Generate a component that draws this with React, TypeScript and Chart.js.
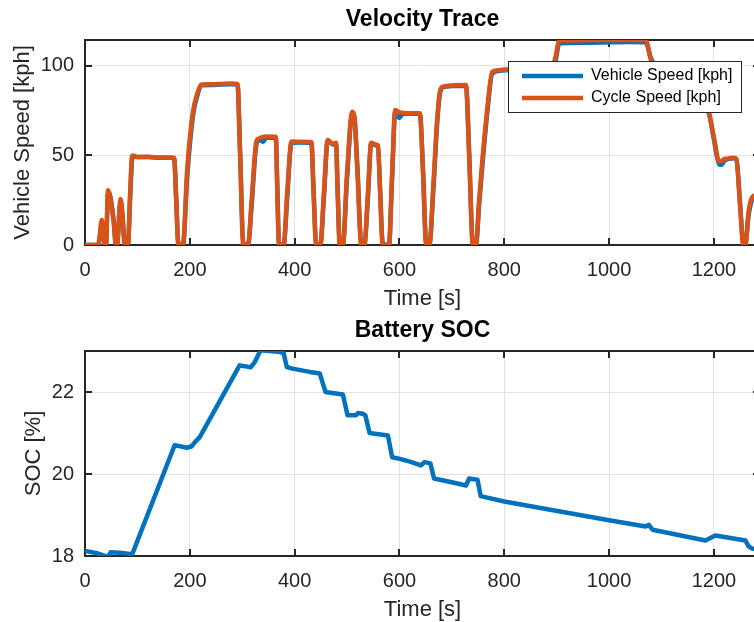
import React, { useEffect, useRef } from 'react';
import { Chart, registerables } from 'chart.js';

Chart.register(...registerables);

// ---------- data ----------
const speedTime = [
  0, 25, 28, 32, 35, 38, 40, 44, 47, 50, 55, 59, 61, 68, 72, 76, 82, 86, 90, 93,
  100, 120, 140, 160, 170, 174, 178, 187, 195, 206, 215, 222, 240, 260, 280, 291, 296, 302, 311, 318,
  327, 333, 340, 345, 364, 367, 370, 379, 386, 394, 410, 432, 436, 441, 449, 456, 463, 473, 479, 482,
  486, 492, 500, 510, 514, 520, 527, 533, 540, 546, 555, 559, 563, 568, 580, 586, 592, 600, 605, 620,
  639, 645, 651, 657, 665, 672, 678, 684, 700, 727, 733, 740, 746, 752, 759, 768, 777, 790, 803, 850,
  890, 898, 905, 950, 1000, 1040, 1070, 1080, 1095, 1120, 1150, 1180, 1190, 1200, 1210, 1215, 1220, 1229, 1238, 1243,
  1250, 1256, 1260, 1266, 1272, 1280, 1288,
];

const cycleSpeed = [
  0, 0, 5, 14, 8, 0, 0, 30.5, 28, 23.6, 12, 0, 0, 25.7, 14, 0, 0, 28, 49.7, 49.5,
  49, 49.2, 48.8, 48.8, 48.6, 25, 0, 0, 42, 74.3, 85, 89.5, 89.6, 89.8, 90, 89.8, 50, 0, 0, 25,
  57.7, 59.5, 60.2, 60.5, 60.4, 30, 0, 0, 30, 57.7, 57.5, 57.3, 30, 0, 0, 30, 58.5, 56.5, 57, 30,
  0, 0, 40, 74.3, 71.7, 40, 0, 0, 30, 57, 56, 55.5, 30, 0, 0, 40, 75.3, 74, 73.8, 73.5,
  73.4, 40, 0, 0, 35, 70, 86.4, 88.3, 89, 89.2, 50, 0, 0, 25, 50, 77, 96.6, 97.5, 97.9, 98,
  98, 105, 114, 114.2, 114.3, 114.4, 114.2, 103, 96, 90, 85, 78, 74.3, 60, 46.5, 46.8, 48, 48.3, 48.7, 48,
  22, 0, 0, 18, 26, 28, 30,
];

const vehicleSpeed = [
  0, 0, 3, 13, 9, 0, 0, 29, 28.5, 24, 13, 0, 0, 24.5, 15, 0, 0, 25, 48, 49.8,
  49, 49, 48.7, 48.6, 48.5, 27, 1, 0, 38, 72, 84, 89, 89.2, 89.5, 89.6, 89.4, 52, 1, 0, 22,
  56, 58.5, 57.5, 59.8, 60, 32, 1, 0, 27, 57, 57.2, 57, 32, 1, 0, 27, 58, 56, 56.5, 32,
  1, 0, 37, 73.5, 71, 42, 1, 0, 27, 56.5, 55.5, 55, 32, 1, 0, 37, 74.5, 70.8, 73, 73.2,
  73, 42, 1, 0, 32, 68, 85.5, 88, 88.6, 88.8, 52, 1, 0, 22, 47, 75, 95.5, 97, 97.5, 97.6,
  97.7, 103, 112.5, 112.8, 113, 113.2, 113, 104, 96.5, 90, 85, 78, 74, 59, 45, 44.7, 47, 48, 48.3, 47.5,
  23, 1, 0, 16, 24.5, 27.5, 29.5,
];

const socTime = [
  0, 10, 25, 44, 49, 66, 86, 90, 171, 180, 194, 203, 210, 219, 295, 305, 316, 324, 335, 352,
  370, 379, 385, 396, 429, 448, 459, 475, 492, 501, 517, 521, 530, 535, 543, 560, 578, 586, 601, 620,
  641, 648, 659, 666, 700, 727, 733, 749, 755, 800, 1000, 1070, 1076, 1083, 1184, 1195, 1203, 1260, 1266, 1273,
  1288,
];

const socValues = [
  18.12, 18.1, 18.06, 17.98, 18.09, 18.08, 18.05, 18.04, 20.7, 20.68, 20.64, 20.67, 20.78, 20.9, 22.65, 22.63, 22.6, 22.73, 23.02, 23.0,
  22.98, 22.95, 22.61, 22.57, 22.49, 22.45, 22.0, 21.97, 21.94, 21.43, 21.43, 21.49, 21.47, 21.43, 21.0, 20.97, 20.94, 20.41, 20.37, 20.3,
  20.21, 20.29, 20.26, 19.89, 19.8, 19.72, 19.89, 19.86, 19.46, 19.33, 18.87, 18.72, 18.76, 18.64, 18.38, 18.45, 18.5, 18.38, 18.24, 18.18,
  18.14,
];

const timeTicks = [0, 200, 400, 600, 800, 1000, 1200];
const speedTicks = [0, 50, 100];
const socTicks = [18, 20, 22];

const TIME_MAX = 1288;
const SPEED_RANGE = [0, 114.3];
const SOC_RANGE = [18, 23];

// ---------- styles ----------
const FONT = "'Liberation Sans', Arial, Helvetica, sans-serif";
const AXIS_COLOR = '#262626';
const GRID_COLOR = '#e2e2e2';
const BLUE = '#0072BD';
const ORANGE = '#D95319';
const CANVAS_W = 772;
const CANVAS_H = 311;

function framePlugin(title: string) {
  return {
    id: 'matlabFrame',
    beforeDatasetsDraw(chart: any) {
      const { ctx, chartArea: a, scales } = chart;
      ctx.save();
      ctx.strokeStyle = AXIS_COLOR;
      ctx.lineWidth = 2;
      ctx.strokeRect(a.left, a.top, a.right - a.left, a.bottom - a.top);
      const tl = 7;
      ctx.beginPath();
      scales.x.ticks.forEach((t: any) => {
        const px = Math.round(scales.x.getPixelForValue(t.value));
        ctx.moveTo(px, a.bottom);
        ctx.lineTo(px, a.bottom - tl);
        ctx.moveTo(px, a.top);
        ctx.lineTo(px, a.top + tl);
      });
      scales.y.ticks.forEach((t: any) => {
        const py = Math.round(scales.y.getPixelForValue(t.value));
        ctx.moveTo(a.left, py);
        ctx.lineTo(a.left + tl, py);
        ctx.moveTo(a.right, py);
        ctx.lineTo(a.right - tl, py);
      });
      ctx.stroke();
      ctx.fillStyle = '#000';
      ctx.font = `bold 23px ${FONT}`;
      ctx.textAlign = 'center';
      ctx.textBaseline = 'middle';
      ctx.fillText(title, (a.left + a.right) / 2, 20);
      ctx.restore();
    },
  };
}

const legendPlugin = {
  id: 'matlabLegend',
  afterDatasetsDraw(chart: any) {
    const { ctx, chartArea: a } = chart;
    const left = a.left + 423;
    const top = a.top + 21;
    const w = 233;
    const h = 51;
    ctx.save();
    ctx.fillStyle = '#fff';
    ctx.fillRect(left, top, w, h);
    ctx.strokeStyle = AXIS_COLOR;
    ctx.lineWidth = 1;
    ctx.strokeRect(left + 0.5, top + 0.5, w, h);
    const items = chart.data.datasets.slice().sort((p: any, q: any) => p.legendIndex - q.legendIndex);
    items.forEach((ds: any, i: number) => {
      const y = top + 15 + i * 22;
      ctx.strokeStyle = ds.borderColor;
      ctx.lineWidth = 4.5;
      ctx.beginPath();
      ctx.moveTo(left + 14, y);
      ctx.lineTo(left + 75, y);
      ctx.stroke();
      ctx.fillStyle = '#000';
      ctx.font = `16px ${FONT}`;
      ctx.textAlign = 'left';
      ctx.textBaseline = 'middle';
      ctx.fillText(ds.label, left + 83, y);
    });
    ctx.restore();
  },
};

function makeScales(yRange: number[], yTicks: number[], yTitle: string, yTitlePad: number) {
  const tickFont = { family: FONT, size: 20 };
  return {
    x: {
      type: 'linear' as const,
      min: 0,
      max: TIME_MAX,
      afterBuildTicks: (s: any) => {
        s.ticks = timeTicks.map((v) => ({ value: v }));
      },
      afterFit: (s: any) => {
        s.height = 66;
      },
      grid: { color: GRID_COLOR, lineWidth: 1, drawTicks: false },
      border: { display: false },
      ticks: {
        padding: 13,
        color: AXIS_COLOR,
        font: tickFont,
        maxRotation: 0,
        autoSkip: false,
        callback: (v: any) => String(v),
      },
      title: {
        display: true,
        text: 'Time [s]',
        color: AXIS_COLOR,
        font: { family: FONT, size: 22, lineHeight: 1.1 },
        padding: 0,
      },
    },
    y: {
      type: 'linear' as const,
      min: yRange[0],
      max: yRange[1],
      afterBuildTicks: (s: any) => {
        s.ticks = yTicks.map((v) => ({ value: v }));
      },
      afterFit: (s: any) => {
        s.width = 85;
      },
      grid: { color: GRID_COLOR, lineWidth: 1, drawTicks: false },
      border: { display: false },
      ticks: {
        padding: 11,
        color: AXIS_COLOR,
        font: tickFont,
        autoSkip: false,
        callback: (v: any) => String(v),
      },
      title: {
        display: true,
        text: yTitle,
        color: AXIS_COLOR,
        font: { family: FONT, size: 22, lineHeight: 1.2 },
        padding: { top: yTitlePad, bottom: 0 },
      },
    },
  };
}

const baseOptions = {
  responsive: false,
  animation: false as const,
  devicePixelRatio: 1,
  layout: { padding: { top: 40, left: 0, right: CANVAS_W - 760, bottom: 0 } },
  plugins: { legend: { display: false }, title: { display: false }, tooltip: { enabled: false } },
  events: [] as any[],
};

export default function App() {
  const topRef = useRef<HTMLCanvasElement>(null);
  const botRef = useRef<HTMLCanvasElement>(null);

  useEffect(() => {
    const lineStyle = {
      borderWidth: 4.5,
      pointRadius: 0,
      borderJoinStyle: 'round' as const,
      borderCapStyle: 'round' as const,
      fill: false,
    };
    const c1 = new Chart(topRef.current!, {
      type: 'line',
      data: {
        datasets: [
          {
            label: 'Cycle Speed [kph]',
            data: speedTime.map((t, i) => ({ x: t, y: cycleSpeed[i] })),
            borderColor: ORANGE,
            backgroundColor: ORANGE,
            order: 0,
            legendIndex: 1,
            cubicInterpolationMode: 'monotone',
            ...lineStyle,
          } as any,
          {
            label: 'Vehicle Speed [kph]',
            data: speedTime.map((t, i) => ({ x: t, y: vehicleSpeed[i] })),
            borderColor: BLUE,
            backgroundColor: BLUE,
            order: 1,
            legendIndex: 0,
            cubicInterpolationMode: 'monotone',
            ...lineStyle,
          } as any,
        ],
      },
      options: {
        ...baseOptions,
        scales: makeScales(SPEED_RANGE, speedTicks, 'Vehicle Speed [kph]', 10),
      } as any,
      plugins: [framePlugin('Velocity Trace'), legendPlugin],
    });

    const c2 = new Chart(botRef.current!, {
      type: 'line',
      data: {
        datasets: [
          {
            label: 'SOC',
            data: socTime.map((t, i) => ({ x: t, y: socValues[i] })),
            borderColor: BLUE,
            backgroundColor: BLUE,
            tension: 0,
            ...lineStyle,
          } as any,
        ],
      },
      options: {
        ...baseOptions,
        scales: makeScales(SOC_RANGE, socTicks, 'SOC [%]', 21),
      } as any,
      plugins: [framePlugin('Battery SOC')],
    });

    return () => {
      c1.destroy();
      c2.destroy();
    };
  }, []);

  return (
    <div
      style={{
        position: 'absolute',
        left: 0,
        top: 0,
        width: 754,
        height: 622,
        overflow: 'hidden',
        background: '#fff',
      }}
    >
      <canvas
        ref={topRef}
        width={CANVAS_W}
        height={CANVAS_H}
        style={{ position: 'absolute', left: 0, top: 0, width: CANVAS_W, height: CANVAS_H }}
      />
      <canvas
        ref={botRef}
        width={CANVAS_W}
        height={CANVAS_H}
        style={{ position: 'absolute', left: 0, top: CANVAS_H, width: CANVAS_W, height: CANVAS_H }}
      />
    </div>
  );
}
